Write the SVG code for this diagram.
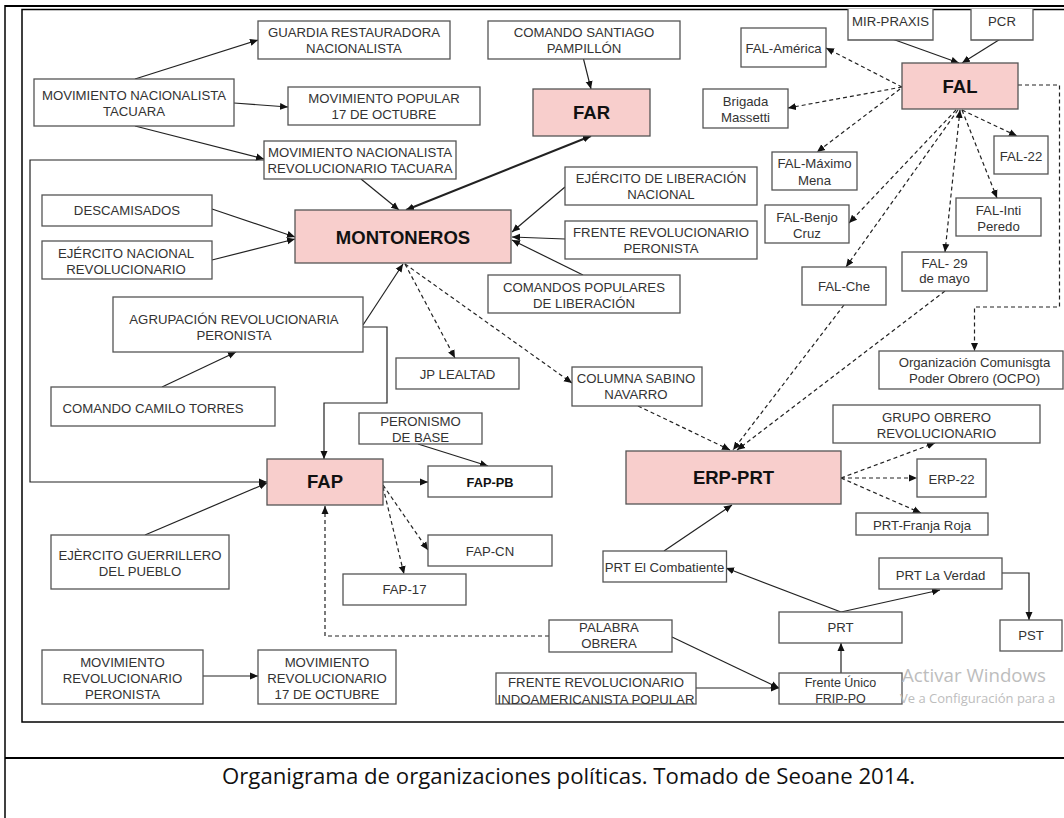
<svg xmlns="http://www.w3.org/2000/svg" width="1064" height="818" viewBox="0 0 1064 818">
<style>
.n rect,.n path{fill:#fff;stroke:#555;stroke-width:1.3}
.p rect{fill:#f8cecc;stroke:#555;stroke-width:1.3}
text{font-family:"Liberation Sans",Arial,sans-serif;font-size:13.2px;fill:#333;text-anchor:middle}
text.b{font-size:18.5px;font-weight:bold;fill:#111}
text.s{font-size:12.5px}
text.pb{font-size:12.8px;font-weight:bold;fill:#111}
#connectors path{fill:none;stroke:#222;stroke-width:1.2;marker-end:url(#a)}
#connectors path.d{stroke-dasharray:4 3}
#connectors path.t{stroke-width:2}
.frame{fill:none;stroke:#000}
text.wm{font-family:"Open Sans","Noto Sans",sans-serif;fill:#bdbdbd;text-anchor:start}
text.wm1{font-size:19px}
text.wm2{font-size:13px}
text.cap{font-family:"Open Sans","Noto Sans",sans-serif;font-size:21px;fill:#111}
</style>
<defs>
<marker id="a" viewBox="0 0 10 10" refX="10" refY="5" markerWidth="8" markerHeight="8" markerUnits="userSpaceOnUse" orient="auto-start-reverse">
<path d="M0,0.6 L10,5 L0,9.4 z" fill="#111"/>
</marker>
</defs>
<rect width="1064" height="818" fill="#fff"/>
<!-- frames -->
<line class="frame" x1="5" y1="6" x2="1064" y2="6" stroke-width="2"/>
<line class="frame" x1="5" y1="5" x2="5" y2="818" stroke-width="1.5"/>
<rect class="frame" x="22" y="9.5" width="1060" height="712.5" stroke-width="1.5"/>
<line class="frame" x1="5" y1="758" x2="1064" y2="758" stroke-width="2"/>
<text class="cap" x="568.5" y="784" textLength="693" lengthAdjust="spacingAndGlyphs">Organigrama de organizaciones políticas. Tomado de Seoane 2014.</text>

<g id="connectors">
<path d="M135,79 L258,40"/>
<path d="M234,103 L288,107"/>
<path d="M135,126 L264,159"/>
<path d="M361,179 L399,210"/>
<path class="t" d="M591,136 L406,210" style="marker-start:url(#a)"/>
<path d="M583.5,59 L591,89"/>
<path d="M212,209 L295,237"/>
<path d="M212,260 L295,239"/>
<path d="M565,187 L512,232"/>
<path d="M565,239 L512,237"/>
<path d="M583,275 L512,240"/>
<path d="M363,325 L403,264"/>
<path d="M363,327 L387,327 L387,403 L324,403 L324,459"/>
<path d="M162,387 L236,352"/>
<path d="M264,160 L30,160 L30,482 L267,482"/>
<path d="M145,535 L267,483"/>
<path d="M383,482 L428,482"/>
<path d="M418,444 L488,466"/>
<path d="M203,676 L258,676"/>
<path d="M672,637 L779,688"/>
<path d="M696,688 L779,688"/>
<path d="M841,673 L841,643"/>
<path d="M841,612 L726,568"/>
<path d="M841,612 L940,590"/>
<path d="M1002,573 L1029,573 L1029,620"/>
<path d="M664,551 L732,505"/>
<path d="M889.5,38 L959,63"/>
<path d="M1002,38 L962,63"/>
<path class="d" d="M405,264 L455,358"/>
<path class="d" d="M405,264 L572,383"/>
<path class="d" d="M638,406 L730,450"/>
<path class="d" d="M844,305 L733,450"/>
<path class="d" d="M945,291 L737,450"/>
<path class="d" d="M841,478 L935,443"/>
<path class="d" d="M841,478 L917,478"/>
<path class="d" d="M841,478 L921,513"/>
<path class="d" d="M1018,85 L1059.5,85 L1059.5,307 L974.5,307 L974.5,351"/>
<path class="d" d="M902,87 L826,48"/>
<path class="d" d="M902,87 L788,108"/>
<path class="d" d="M900,89 L817,152"/>
<path class="d" d="M956,110 L849,223"/>
<path class="d" d="M958,110 L846,267"/>
<path class="d" d="M960,110 L945,252" style="marker-start:url(#a)"/>
<path class="d" d="M962,110 L997,198"/>
<path class="d" d="M962,110 L1017,136"/>
<path class="d" d="M383,485 L428,550"/>
<path class="d" d="M383,487 L404,574"/>
<path class="d" d="M549,636 L325,636 L325,506"/>
</g>

<g id="guardia" class="n"><rect x="258" y="21" width="192" height="38"/><text x="354" y="37">GUARDIA RESTAURADORA</text><text x="354" y="53">NACIONALISTA</text></g>
<g id="santiago" class="n"><rect x="488" y="21" width="192" height="38"/><text x="584" y="37">COMANDO SANTIAGO</text><text x="584" y="53">PAMPILLÓN</text></g>
<g id="tacuara" class="n"><rect x="34" y="79" width="200" height="47"/><text x="134" y="100">MOVIMIENTO NACIONALISTA</text><text x="134" y="116">TACUARA</text></g>
<g id="mp17" class="n"><rect x="288" y="87" width="192" height="38"/><text x="384" y="103">MOVIMIENTO POPULAR</text><text x="384" y="119">17 DE OCTUBRE</text></g>
<g id="far" class="p"><rect x="533" y="89" width="117" height="47"/><text class="b" x="591.5" y="119">FAR</text></g>
<g id="mnrt" class="n"><rect x="264" y="141" width="192" height="38"/><text x="360" y="157">MOVIMIENTO NACIONALISTA</text><text x="360" y="173">REVOLUCIONARIO TACUARA</text></g>
<g id="descamisados" class="n"><rect x="42" y="195" width="170" height="31"/><text x="127" y="215">DESCAMISADOS</text></g>
<g id="enr" class="n"><rect x="42" y="241" width="170" height="38"/><text x="126" y="258">EJÉRCITO NACIONAL</text><text x="126" y="274">REVOLUCIONARIO</text></g>
<g id="montoneros" class="p"><rect x="295" y="210" width="216" height="53"/><text class="b" x="403" y="243.5">MONTONEROS</text></g>
<g id="mirpraxis" class="n"><path d="M848,9 V40 H933 V9"/><text x="890.5" y="26">MIR-PRAXIS</text></g>
<g id="pcr" class="n"><path d="M971,9 V40 H1033 V9"/><text x="1002" y="26">PCR</text></g>
<g id="fal" class="p"><rect x="902" y="63" width="116" height="46"/><text class="b" x="960" y="93">FAL</text></g>
<g id="falamerica" class="n"><rect x="741" y="28" width="85" height="39"/><text x="783.5" y="53">FAL-América</text></g>
<g id="brigada" class="n"><rect x="703" y="89" width="85" height="39"/><text x="745.5" y="105.5">Brigada</text><text x="745.5" y="121.5">Massetti</text></g>
<g id="falmena" class="n"><rect x="772" y="152" width="85" height="38"/><text x="814.5" y="168">FAL-Máximo</text><text x="814.5" y="184.5">Mena</text></g>
<g id="falbenjo" class="n"><rect x="765" y="205" width="84" height="38"/><text x="807" y="221.5">FAL-Benjo</text><text x="807" y="237.5">Cruz</text></g>
<g id="falche" class="n"><rect x="802" y="267" width="84" height="38"/><text x="844" y="291">FAL-Che</text></g>
<g id="fal22" class="n"><rect x="994" y="136" width="54" height="38"/><text x="1021" y="160.5">FAL-22</text></g>
<g id="falinti" class="n"><rect x="956" y="198" width="85" height="38"/><text x="998.5" y="215">FAL-Inti</text><text x="998.5" y="230.5">Peredo</text></g>
<g id="fal29" class="n"><rect x="902" y="252" width="85" height="39"/><text x="944.5" y="268">FAL- 29</text><text x="944.5" y="283">de mayo</text></g>
<g id="eln" class="n"><rect x="565" y="167" width="192" height="38"/><text x="661" y="183">EJÉRCITO DE LIBERACIÓN</text><text x="661" y="199">NACIONAL</text></g>
<g id="frp" class="n"><rect x="565" y="221" width="192" height="38"/><text x="661" y="237">FRENTE REVOLUCIONARIO</text><text x="661" y="253">PERONISTA</text></g>
<g id="cpl" class="n"><rect x="488" y="275" width="192" height="38"/><text x="584" y="291.5">COMANDOS POPULARES</text><text x="584" y="307.5">DE LIBERACIÓN</text></g>
<g id="agrupacion" class="n"><rect x="113" y="297" width="250" height="55"/><text x="234" y="324">AGRUPACIÓN REVOLUCIONARIA</text><text x="234" y="340">PERONISTA</text></g>
<g id="camilo" class="n"><rect x="51" y="387" width="224" height="39"/><text x="153" y="413">COMANDO CAMILO TORRES</text></g>
<g id="jplealtad" class="n"><rect x="396" y="358" width="123" height="31"/><text x="457.5" y="379">JP LEALTAD</text></g>
<g id="sabino" class="n"><rect x="572" y="367" width="130" height="39"/><text x="636" y="383">COLUMNA SABINO</text><text x="636" y="399">NAVARRO</text></g>
<g id="ocpo" class="n"><rect x="879" y="351" width="184" height="38"/><text x="974.5" y="366.5">Organización Comunisgta</text><text x="974.5" y="382.5">Poder Obrero (OCPO)</text></g>
<g id="gor" class="n"><rect x="833" y="405" width="207" height="38"/><text x="936.5" y="422">GRUPO OBRERO</text><text x="936.5" y="438">REVOLUCIONARIO</text></g>
<g id="erpprt" class="p"><rect x="626" y="451" width="215" height="53"/><text class="b" x="733.5" y="484">ERP-PRT</text></g>
<g id="erp22" class="n"><rect x="917" y="459" width="69" height="38"/><text x="951.5" y="484">ERP-22</text></g>
<g id="franja" class="n"><rect x="856" y="513" width="132" height="22"/><text x="922" y="530">PRT-Franja Roja</text></g>
<g id="pst" class="n"><rect x="1000" y="620" width="62" height="31"/><text x="1031" y="640">PST</text></g>
<g id="verdad" class="n"><rect x="879" y="558" width="123" height="31"/><text x="940.5" y="580">PRT La Verdad</text></g>
<g id="prt" class="n"><rect x="779" y="612" width="123" height="31"/><text x="840.5" y="632">PRT</text></g>
<g id="fripo" class="n"><rect x="779" y="673" width="123" height="31"/><text class="s" x="840.5" y="687">Frente Único</text><text class="s" x="840.5" y="703">FRIP-PO</text></g>
<g id="combatiente" class="n"><rect x="603" y="551" width="123.5" height="31"/><text x="664.5" y="572">PRT El Combatiente</text></g>
<g id="palabra" class="n"><rect x="549" y="620" width="123" height="32"/><text x="609" y="632">PALABRA</text><text x="609" y="648">OBRERA</text></g>
<g id="fripia" class="n"><rect x="496" y="673" width="200" height="31"/><text x="596" y="687">FRENTE REVOLUCIONARIO</text><text x="596" y="703.5">INDOAMERICANISTA POPULAR</text></g>
<g id="fap" class="p"><rect x="267" y="459" width="116" height="46"/><text class="b" x="325" y="488">FAP</text></g>
<g id="pdb" class="n"><rect x="359" y="413" width="123" height="31"/><text x="420.5" y="426">PERONISMO</text><text x="420.5" y="442">DE BASE</text></g>
<g id="fappb" class="n"><rect x="428" y="466" width="124" height="31"/><text class="pb" x="490" y="487">FAP-PB</text></g>
<g id="fapcn" class="n"><rect x="428" y="535" width="124" height="31"/><text x="490" y="556">FAP-CN</text></g>
<g id="fap17" class="n"><rect x="343" y="574" width="123" height="31"/><text x="404.5" y="594">FAP-17</text></g>
<g id="egp" class="n"><rect x="51" y="535" width="178" height="54"/><text x="140" y="560">EJÈRCITO GUERRILLERO</text><text x="140" y="576">DEL PUEBLO</text></g>
<g id="mrp" class="n"><rect x="42" y="650" width="161" height="54"/><text x="122.5" y="667">MOVIMIENTO</text><text x="122.5" y="683">REVOLUCIONARIO</text><text x="122.5" y="699">PERONISTA</text></g>
<g id="mr17" class="n"><rect x="258" y="650" width="138" height="54"/><text x="327" y="667">MOVIMIENTO</text><text x="327" y="683">REVOLUCIONARIO</text><text x="327" y="699">17 DE OCTUBRE</text></g>

<text class="wm wm1" x="902" y="682" textLength="144" lengthAdjust="spacingAndGlyphs">Activar Windows</text>
<text class="wm wm2" x="900" y="703">Ve a Configuración para a</text>
</svg>
